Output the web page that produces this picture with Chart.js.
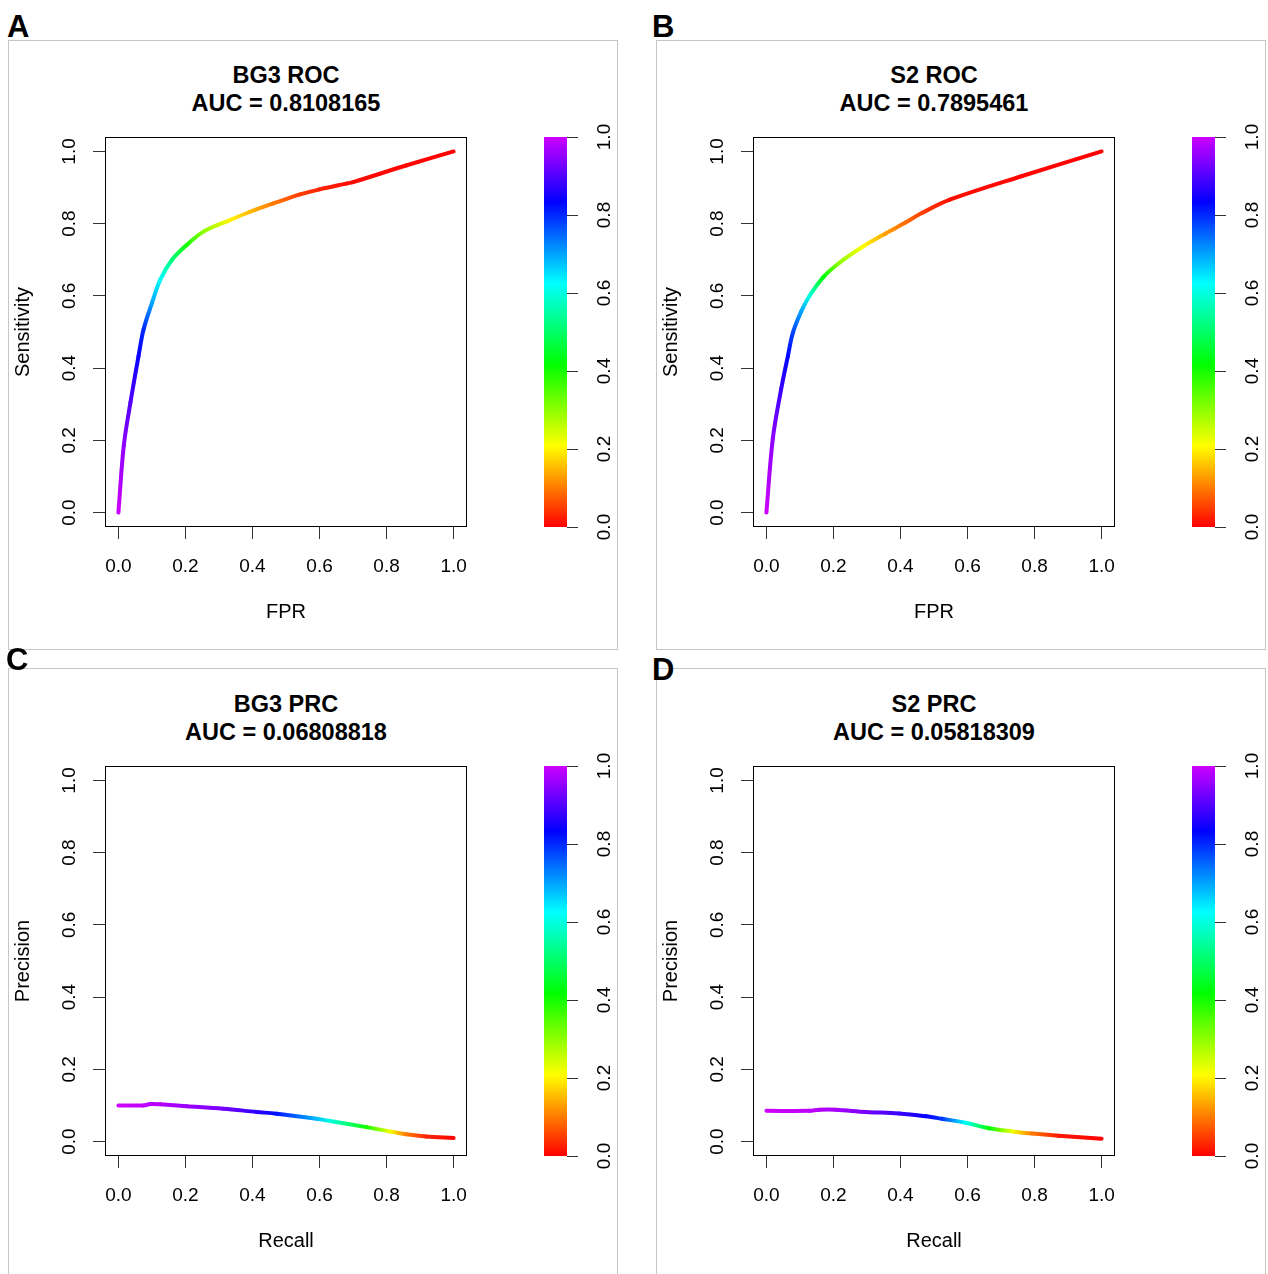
<!DOCTYPE html>
<html>
<head>
<meta charset="utf-8">
<script src="https://cdn.jsdelivr.net/npm/chart.js@4.4.0/dist/chart.umd.min.js"></script>
<style>
html,body{margin:0;padding:0;background:#fff;width:1268px;height:1274px;overflow:hidden;font-family:'Liberation Sans',Arial,Helvetica,sans-serif;}
.border{position:absolute;width:610px;height:610px;box-sizing:border-box;border:1px solid #c6c6c6;}
.letter{position:absolute;font-weight:bold;font-size:31px;line-height:31px;color:#000;}
.title{position:absolute;width:362px;text-align:center;font-weight:bold;font-size:23.5px;line-height:28px;color:#000;white-space:nowrap;}
canvas{position:absolute;}
</style>
</head>
<body>
<script>
const FONT = "'Liberation Sans', Arial, Helvetica, sans-serif";

// Tick labels
const axisTicks = [0, 0.2, 0.4, 0.6, 0.8, 1.0];
const colorbarTicks = [0, 0.2, 0.4, 0.6, 0.8, 1.0];

// A: BG3 ROC
const bg3RocFpr    = [0, 0.016, 0.036, 0.060, 0.075, 0.100, 0.125, 0.160, 0.204, 0.254, 0.333, 0.393, 0.462, 0.542, 0.600, 0.680, 0.700, 0.858, 1.0];
const bg3RocTpr    = [0, 0.185, 0.305, 0.433, 0.507, 0.580, 0.645, 0.700, 0.741, 0.778, 0.810, 0.833, 0.856, 0.881, 0.895, 0.911, 0.915, 0.961, 1.0];
const bg3RocCutoff = [1.0, 0.95, 0.90, 0.84, 0.80, 0.70, 0.62, 0.52, 0.40, 0.30, 0.20, 0.15, 0.10, 0.05, 0.03, 0.01, 0.008, 0.003, 0.0];

// B: S2 ROC
const s2RocFpr    = [0, 0.019, 0.044, 0.064, 0.079, 0.104, 0.128, 0.170, 0.217, 0.287, 0.356, 0.415, 0.465, 0.549, 0.763, 1.0];
const s2RocTpr    = [0, 0.204, 0.342, 0.433, 0.498, 0.557, 0.599, 0.652, 0.691, 0.736, 0.773, 0.803, 0.830, 0.867, 0.932, 1.0];
const s2RocCutoff = [1.0, 0.95, 0.88, 0.83, 0.78, 0.70, 0.60, 0.42, 0.30, 0.21, 0.13, 0.09, 0.05, 0.01, 0.004, 0.0];

// C: BG3 PRC
const bg3PrcRecall    = [0, 0.075, 0.095, 0.125, 0.204, 0.313, 0.412, 0.472, 0.591, 0.631, 0.740, 0.810, 0.859, 0.918, 1.0];
const bg3PrcPrecision = [0.100, 0.100, 0.104, 0.103, 0.098, 0.091, 0.082, 0.077, 0.063, 0.057, 0.040, 0.028, 0.020, 0.014, 0.010];
const bg3PrcCutoff    = [1.0, 0.99, 0.985, 0.98, 0.96, 0.93, 0.87, 0.82, 0.68, 0.60, 0.40, 0.22, 0.10, 0.03, 0.0];

// D: S2 PRC
const s2PrcRecall    = [0, 0.128, 0.158, 0.207, 0.296, 0.396, 0.476, 0.524, 0.594, 0.664, 0.734, 0.793, 0.872, 1.0];
const s2PrcPrecision = [0.085, 0.085, 0.088, 0.088, 0.082, 0.078, 0.070, 0.063, 0.052, 0.037, 0.028, 0.022, 0.016, 0.008];
const s2PrcCutoff    = [1.0, 0.99, 0.98, 0.97, 0.93, 0.88, 0.84, 0.79, 0.62, 0.42, 0.22, 0.10, 0.02, 0.0];

const panels = [
  {letter:'A', left:8,   top:40,  lx:7,   ly:11,  t1:'BG3 ROC', t2:'AUC = 0.8108165',  xTitle:'FPR',    yTitle:'Sensitivity', xs:bg3RocFpr,    ys:bg3RocTpr,       cuts:bg3RocCutoff},
  {letter:'B', left:656, top:40,  lx:652, ly:11,  t1:'S2 ROC',  t2:'AUC = 0.7895461',  xTitle:'FPR',    yTitle:'Sensitivity', xs:s2RocFpr,     ys:s2RocTpr,        cuts:s2RocCutoff},
  {letter:'C', left:8,   top:669, lx:6,   ly:644, t1:'BG3 PRC', t2:'AUC = 0.06808818', xTitle:'Recall', yTitle:'Precision',   xs:bg3PrcRecall, ys:bg3PrcPrecision, cuts:bg3PrcCutoff},
  {letter:'D', left:656, top:669, lx:652, ly:654, t1:'S2 PRC',  t2:'AUC = 0.05818309', xTitle:'Recall', yTitle:'Precision',   xs:s2PrcRecall,  ys:s2PrcPrecision,  cuts:s2PrcCutoff}
];

const HUE_END = 288;
function cutColor(v){ return 'hsl(' + (HUE_END * v).toFixed(2) + ',100%,50%)'; }

const boxPlugin = {
  id:'box',
  afterDraw(chart){
    const {ctx, chartArea:a} = chart;
    ctx.save();
    ctx.strokeStyle = '#000';
    ctx.lineWidth = 1;
    ctx.strokeRect(Math.round(a.left)+0.5, Math.round(a.top)+0.5, Math.round(a.right-a.left)-1, Math.round(a.bottom-a.top)-1);
    ctx.restore();
  }
};

function rotatedLabels(scaleId, xPos){
  return {
    id:'rotLabels_'+scaleId,
    afterDraw(chart){
      const s = chart.scales[scaleId];
      const ctx = chart.ctx;
      ctx.save();
      ctx.fillStyle = '#000';
      ctx.font = '19px ' + FONT;
      ctx.textAlign = 'center';
      ctx.textBaseline = 'middle';
      s.ticks.forEach(t => {
        const py = s.getPixelForValue(t.value);
        ctx.save();
        ctx.translate(xPos, py);
        ctx.rotate(-Math.PI/2);
        ctx.fillText(Number(t.value).toFixed(1), 0, 0);
        ctx.restore();
      });
      ctx.restore();
    }
  };
}

const gradientPlugin = {
  id:'cbGradient',
  beforeDatasetsDraw(chart){
    const {ctx, chartArea:a} = chart;
    const s = chart.scales.y;
    const y0 = s.getPixelForValue(0), y1 = s.getPixelForValue(1);
    const g = ctx.createLinearGradient(0, y0, 0, y1);
    [0, 60, 120, 180, 240, HUE_END].forEach(h => g.addColorStop(h / HUE_END, 'hsl(' + h + ',100%,50%)'));
    ctx.save();
    ctx.fillStyle = g;
    ctx.fillRect(a.left, y1, a.right - a.left, y0 - y1);
    ctx.restore();
  }
};

function tickSetter(vals){ return s => { s.ticks = vals.map(v => ({value:v})); }; }

panels.forEach(p => {
  const b = document.createElement('div');
  b.className = 'border';
  b.style.left = p.left + 'px';
  b.style.top = (p.top === 669 ? 668 : p.top) + 'px';
  document.body.appendChild(b);

  const L = document.createElement('div');
  L.className = 'letter';
  L.textContent = p.letter;
  L.style.left = p.lx + 'px';
  L.style.top = p.ly + 'px';
  document.body.appendChild(L);

  const T = document.createElement('div');
  T.className = 'title';
  T.style.left = (p.left + 97) + 'px';
  T.style.top = (p.top + 21) + 'px';
  T.innerHTML = p.t1 + '<br>' + p.t2;
  document.body.appendChild(T);

  const c = document.createElement('canvas');
  c.width = 610; c.height = 610;
  c.style.left = p.left + 'px'; c.style.top = p.top + 'px';
  c.style.width = '610px'; c.style.height = '610px';
  document.body.appendChild(c);
  const ctx2d = c.getContext('2d');

  const pts = p.xs.map((x, i) => ({x:x, y:p.ys[i]}));
  new Chart(c, {
    type:'line',
    data:{datasets:[{
      data:pts,
      borderWidth:4,
      pointRadius:0,
      fill:false,
      tension:0.35,
      borderCapStyle:'round',
      borderJoinStyle:'round',
      segment:{
        borderColor: sc => {
          const g = ctx2d.createLinearGradient(sc.p0.x, sc.p0.y, sc.p1.x, sc.p1.y);
          g.addColorStop(0, cutColor(p.cuts[sc.p0DataIndex]));
          g.addColorStop(1, cutColor(p.cuts[sc.p1DataIndex]));
          return g;
        },
        borderDashOffset: sc => sc.p0DataIndex * 0.001
      }
    }]},
    options:{
      responsive:false, animation:false, devicePixelRatio:1,
      events:[],
      layout:{padding:{left:0, top:97, right:151, bottom:0}},
      plugins:{legend:{display:false}, tooltip:{enabled:false}, title:{display:false}},
      scales:{
        x:{
          type:'linear', min:-0.04, max:1.04,
          afterBuildTicks: tickSetter(axisTicks),
          afterFit: s => { s.height = 123; },
          grid:{drawOnChartArea:false, drawTicks:true, tickLength:12, color:'#333', lineWidth:1},
          border:{display:false},
          ticks:{font:{size:19, family:FONT}, color:'#000', padding:16, maxRotation:0, callback: v => Number(v).toFixed(1)},
          title:{display:true, text:p.xTitle, font:{size:20, family:FONT}, color:'#000', padding:{top:0, bottom:26}}
        },
        y:{
          type:'linear', min:-0.04, max:1.04,
          afterBuildTicks: tickSetter(axisTicks),
          afterFit: s => { s.width = 97; },
          grid:{drawOnChartArea:false, drawTicks:true, tickLength:12, color:'#333', lineWidth:1},
          border:{display:false},
          ticks:{display:false},
          title:{display:true, text:p.yTitle, font:{size:20, family:FONT}, color:'#000', padding:{top:3, bottom:0}}
        }
      }
    },
    plugins:[boxPlugin, rotatedLabels('y', 62)]
  });

  const cb = document.createElement('canvas');
  cb.width = 110; cb.height = 610;
  cb.style.left = (p.left + 500) + 'px'; cb.style.top = p.top + 'px';
  cb.style.width = '110px'; cb.style.height = '610px';
  document.body.appendChild(cb);
  new Chart(cb, {
    type:'scatter',
    data:{datasets:[{data:[]}]},
    options:{
      responsive:false, animation:false, devicePixelRatio:1,
      events:[],
      layout:{padding:{left:36, top:97, right:0, bottom:123}},
      plugins:{legend:{display:false}, tooltip:{enabled:false}},
      scales:{
        x:{type:'linear', min:0, max:1, display:false},
        y:{
          type:'linear', position:'right', min:0, max:1,
          afterBuildTicks: tickSetter(colorbarTicks),
          afterFit: s => { s.width = 51; },
          grid:{drawOnChartArea:false, drawTicks:true, tickLength:11, color:'#333', lineWidth:1},
          border:{display:false},
          ticks:{display:false}
        }
      }
    },
    plugins:[gradientPlugin, rotatedLabels('y', 97)]
  });
});
</script>
</body>
</html>
